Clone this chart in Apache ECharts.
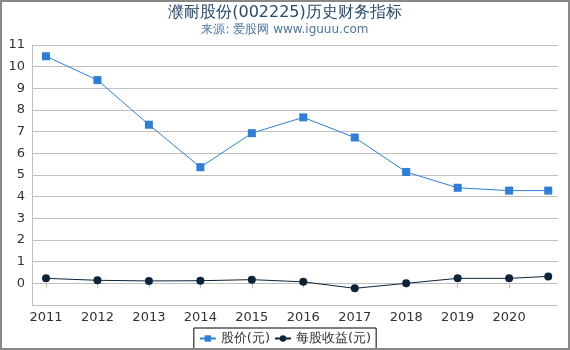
<!DOCTYPE html>
<html><head><meta charset="utf-8">
<script src="https://cdn.jsdelivr.net/npm/echarts@6/dist/echarts.min.js"></script>
<style>html,body{margin:0;padding:0;background:#fff}#c{width:570px;height:350px}</style>
</head><body><div id="c"></div>
<script>
const years = [2011, 2012, 2013, 2014, 2015, 2016, 2017, 2018, 2019, 2020, 2020.76];
const tickYears = [2011, 2012, 2013, 2014, 2015, 2016, 2017, 2018, 2019, 2020];
const price = [10.48, 9.38, 7.32, 5.36, 6.93, 7.66, 6.73, 5.14, 4.41, 4.28, 4.28];
const eps = [0.23, 0.14, 0.11, 0.12, 0.17, 0.07, -0.23, 0.0, 0.23, 0.23, 0.32];
const seriesNames = ['股价(元)', '每股收益(元)'];
const titleText = '濮耐股份(002225)历史财务指标';
const subtitleText = '来源: 爱股网 www.iguuu.com';

const font = 'DejaVu Sans, sans-serif';
const chart = echarts.init(document.getElementById('c'), null, {renderer: 'canvas'});
chart.setOption({
  animation: false,
  backgroundColor: '#fff',
  title: {
    text: titleText, subtext: subtitleText, left: 'center', top: 0, itemGap: 3,
    textStyle: {fontFamily: font, fontSize: 16, fontWeight: 'normal', color: '#274b6d'},
    subtextStyle: {fontFamily: font, fontSize: 12, color: '#4d759e'}
  },
  graphic: [{type: 'rect', shape: {x: 0, y: 0, width: 570, height: 350}, style: {fill: 'none', stroke: '#888', lineWidth: 4}, z: 100}],
  grid: {left: 32, right: 12, top: 45, bottom: 45, containLabel: false},
  legend: {
    bottom: 0, left: 'center', data: seriesNames,
    borderColor: '#000', borderWidth: 1, borderRadius: 0, padding: [4, 5, 5, 5],
    itemWidth: 16, itemHeight: 8, itemGap: 4,
    textStyle: {fontFamily: font, fontSize: 13, color: '#333'}
  },
  xAxis: {
    type: 'value', min: 2010.728, max: 2020.95,
    splitLine: {show: false},
    axisLine: {lineStyle: {color: '#c0c0c0'}},
    axisTick: {show: true, customValues: tickYears, length: 5, lineStyle: {color: '#c0c0c0'}},
    axisLabel: {customValues: tickYears, fontFamily: font, fontSize: 13, color: '#333', margin: 6, formatter: v => String(v)}
  },
  yAxis: {
    type: 'value', min: -1, max: 11, interval: 1,
    axisLine: {show: true, lineStyle: {color: '#c0c0c0'}},
    axisTick: {show: false},
    splitLine: {lineStyle: {color: '#c0c0c0'}},
    axisLabel: {fontFamily: font, fontSize: 13, color: '#333', margin: 7, formatter: v => v < 0 ? '' : String(v)}
  },
  series: [
    {name: seriesNames[0], type: 'line', data: years.map((y, i) => [y, price[i]]),
     symbol: 'rect', symbolSize: 8, color: '#2f7ed8', lineStyle: {width: 1},
     itemStyle: {color: '#2f7ed8'}},
    {name: seriesNames[1], type: 'line', data: years.map((y, i) => [y, eps[i]]),
     symbol: 'circle', symbolSize: 8, color: '#0d233a', lineStyle: {width: 1},
     itemStyle: {color: '#0d233a'}}
  ]
});
</script></body></html>
